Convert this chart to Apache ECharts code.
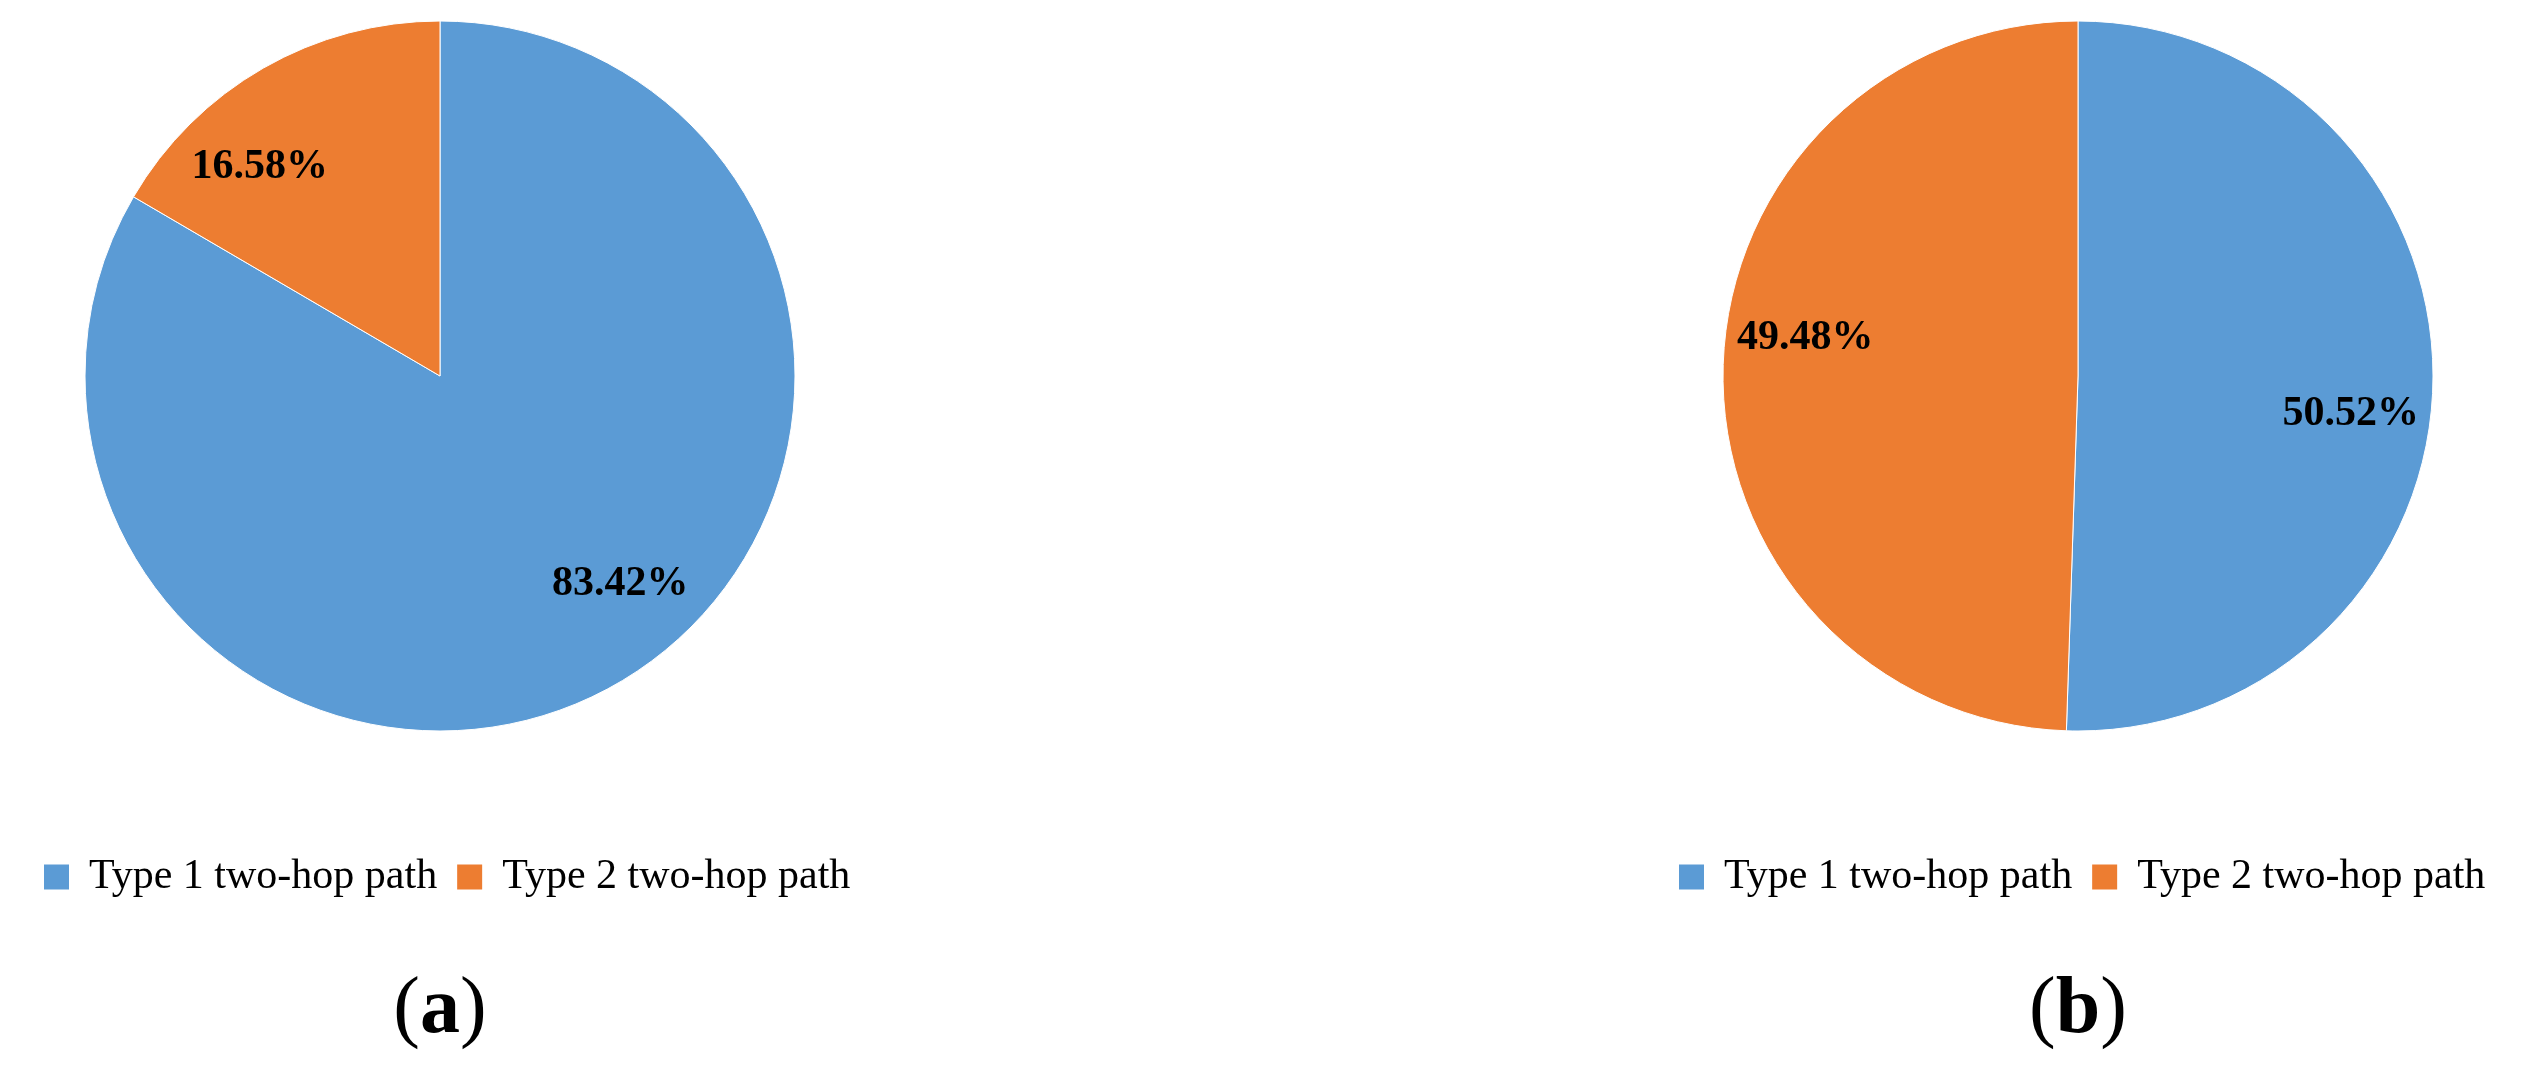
<!DOCTYPE html>
<html>
<head>
<meta charset="utf-8">
<title>Two-hop path share</title>
<script src="https://cdn.jsdelivr.net/npm/echarts@6/dist/echarts.min.js"></script>
<style>
html,body{margin:0;padding:0;background:#fff;}
#main{width:2541px;height:1081px;}
</style>
</head>
<body>
<div id="main"></div>
<script>
// categories
var pathTypes=['Type 1 two-hop path','Type 2 two-hop path'];
// share of each path type (%), panel (a) and panel (b)
var shareA=[83.42,16.58];
var shareB=[50.52,49.48];
var panelTags=['a','b'];
var colors=['#5B9BD5','#ED7D31'];

var chart=echarts.init(document.getElementById('main'));
var centers=[[440,376],[2078,376]];
var legendLeft=[42,1677];
var labelTurn=[11,-7];   // excel nudged its labels a bit off the slice middle
var R=355;
var serif='"Liberation Serif","Times New Roman",serif';

function toData(vals){
  return vals.map(function(v,i){ return {name:pathTypes[i],value:v}; });
}

var series=[],legends=[],titles=[];
[shareA,shareB].forEach(function(vals,k){
  series.push({
    type:'pie',center:centers[k],radius:[0,R],startAngle:90,clockwise:true,
    silent:true,animation:false,
    color:colors,
    itemStyle:{borderColor:'#fff',borderWidth:1},
    label:{show:false},labelLine:{show:false},
    data:toData(vals)
  });
  // see-through ring, only there so the labels sit about 3/4 out
  series.push({
    type:'pie',center:centers[k],radius:[190,R],startAngle:90+labelTurn[k],clockwise:true,
    silent:true,animation:false,
    itemStyle:{color:'rgba(0,0,0,0)'},
    label:{
      show:true,position:'inside',
      formatter:function(p){ return p.value.toFixed(2)+'%'; },
      fontFamily:serif,fontWeight:'bold',fontSize:42,color:'#000'
    },
    labelLine:{show:false},
    data:toData(vals)
  });
  legends.push({
    left:legendLeft[k],top:856,padding:0,orient:'horizontal',
    itemWidth:27,itemHeight:27,itemGap:18,icon:'rect',selectedMode:false,
    textStyle:{fontFamily:serif,fontSize:42,color:'#000',padding:[0,0,0,14]},
    data:pathTypes.map(function(n,i){ return {name:n,itemStyle:{color:colors[i]}}; })
  });
  titles.push({
    text:'{p|(}{t|'+panelTags[k]+'}{p|)}',
    left:centers[k][0],top:971,padding:0,textAlign:'center',
    textStyle:{fontWeight:'normal',rich:{
      p:{fontFamily:serif,fontSize:80,fontWeight:'normal',color:'#000'},
      t:{fontFamily:serif,fontSize:80,fontWeight:'bold',color:'#000'}
    }}
  });
});

chart.setOption({
  backgroundColor:'#fff',
  animation:false,
  title:titles,
  legend:legends,
  series:series
});
</script>
</body>
</html>
